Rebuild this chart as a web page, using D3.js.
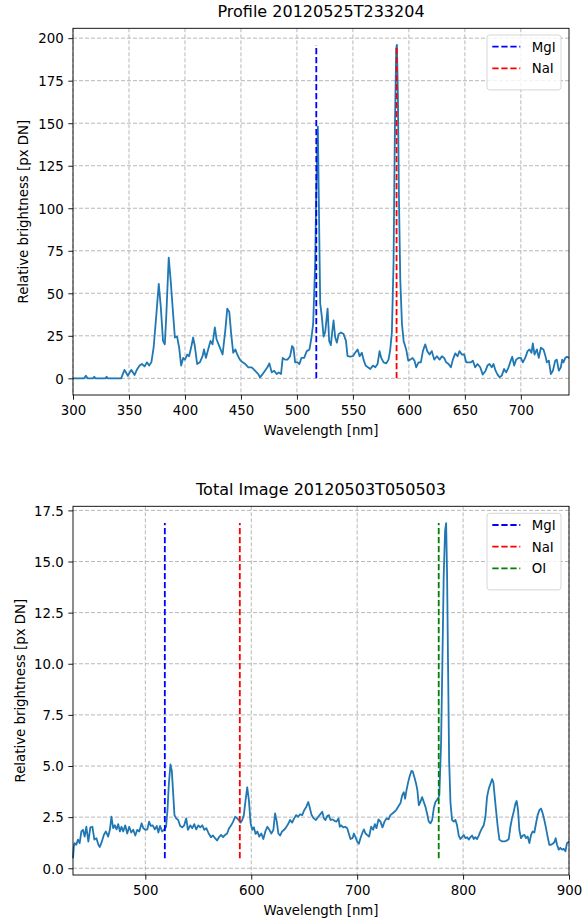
<!DOCTYPE html>
<html>
<head>
<meta charset="utf-8">
<script src="https://cdn.jsdelivr.net/npm/d3@7"></script>
<style>
  body { margin: 0; background: #fff; }
  svg { display: block; font-family: "DejaVu Sans", sans-serif; }
</style>
</head>
<body>
<svg id="fig" width="584" height="922"></svg>
<script>
// ---- Profile spectrum (upper panel) ----
const profileWavelength = [
  300, 310, 311.5, 313, 318, 319, 320, 329, 330, 331, 343, 346, 349, 352, 355, 357, 359.5, 361.5, 364, 366,
  368, 370, 372, 374.5, 376.6, 378.4, 380.4, 382, 383.4, 385.5, 387.3, 389.4, 391, 393, 394.8, 396.6, 398.4, 400, 402, 403.7,
  405.8, 407.3, 408.8, 410.9, 413.3, 415.7, 417, 418.7, 420.7, 422.8, 424.6, 426.7, 428.2, 430, 431.8, 433.6, 436, 437.8, 439.6, 441.3,
  443.1, 445, 446.7, 449, 451.5, 453.9, 456.6, 459.6, 462.5, 465.5, 467, 469.4, 471.5, 473.6, 475.4, 477.5, 479.6, 481.9, 483.7, 485.8,
  487.3, 489.4, 491.5, 493.9, 495.7, 496.9, 498.4, 500.5, 502.2, 504, 506.4, 508.8, 511.2, 513, 514.5, 516.3, 517.2, 518.7, 519.9, 520.8,
  522.3, 523.8, 525.3, 527.4, 528.8, 530.3, 531.3, 532.7, 534.2, 535.7, 537.2, 539.3, 541.7, 543.8, 545.2, 547.6, 550, 552, 554.2, 556,
  558, 559.5, 561.3, 563.4, 565.5, 567.9, 570, 572, 573.8, 575.3, 577.4, 579.8, 581.8, 583.3, 584.8, 586.3, 587.5, 588.7, 589.3, 590.2,
  591.1, 592.3, 593.8, 595.3, 597.6, 599.4, 601.2, 603.3, 605, 606.5, 608.6, 610.7, 612.5, 614.6, 616.4, 618.5, 620.5, 622.6, 625, 627.4,
  629.5, 631.5, 633.3, 635.4, 637.5, 639.3, 641.4, 643.5, 645.2, 647.3, 649.4, 651.2, 653.3, 655.4, 657.1, 659.2, 661.3, 663.7, 666, 668.5,
  670.2, 672, 674, 675.6, 677.4, 679.2, 681, 683, 685, 686.9, 689, 691, 692.3, 694, 695.8, 697.9, 700, 701.8, 703.9, 706,
  707.7, 709.5, 710.7, 712.2, 714.3, 716, 717.9, 720.2, 722, 723.2, 725, 726.8, 728.6, 730.7, 732.1, 733.9, 735.7, 736.9, 738.1, 739.6,
  741.1, 743
];
const profileBrightness = [
  0, 0, 1.5, 0, 0, 1, 0, 0, 1, 0, 0, 5, 1.5, 5, 2, 5, 7.5, 8.4, 7, 9.4,
  7.5, 9.4, 18, 38, 55.5, 42, 22, 20, 38, 71, 57, 38, 24, 24.5, 18, 7.5, 12, 11, 14, 13,
  19, 24, 19, 8.4, 9.4, 13, 17, 12, 17, 22, 20, 30, 23, 20, 17, 14, 28, 41, 39, 26,
  15, 17, 14, 11, 9.4, 8.4, 6.5, 6.5, 4.5, 2.5, 0.6, 2.5, 4.5, 6.5, 8.8, 3.5, 4.5, 2.5, 3.5, 2.5,
  12, 11, 11, 13, 19, 18, 9.4, 9.4, 8.4, 12, 12, 16, 17, 24, 32, 68, 107, 148, 87, 44,
  36, 24.5, 27.4, 41, 22, 19.5, 26, 34, 24, 21, 26, 27, 26, 22, 13, 12.7, 13, 15, 17, 13,
  15, 11, 7.5, 6.5, 5.5, 7.5, 6.5, 8.4, 16, 12, 9.4, 8.8, 11, 16.6, 27, 68, 147, 194, 196, 166,
  107, 58, 32, 22, 17, 10.4, 11, 12, 10.4, 6.5, 9.4, 9.4, 16, 20, 16, 14, 16, 11, 13, 11,
  13, 12, 9.4, 8.4, 6.5, 11, 14.7, 13, 16, 14, 14, 9.4, 9.4, 9.4, 10.4, 6.5, 8.4, 6.5, 2.2, 4.5,
  7.5, 8.4, 6.5, 8.4, 4.5, 2.2, 0.6, 1.6, 5.5, 3.5, 6.5, 10.4, 12.7, 7.5, 11, 12, 12, 9.4, 12, 16,
  17, 15, 20.6, 14, 17, 12, 18, 17, 13, 9.4, 10.4, 2.5, 4.5, 10.4, 11, 4.5, 6.5, 11, 9.4, 12,
  12.7, 12
];

// ---- Total image spectrum (lower panel) ----
const totalWavelength = [
  431.7, 432.5, 433.2, 434.8, 436.4, 438, 439.6, 441.1, 442.7, 444.3, 446.2, 448.1, 450, 451.9, 453.8, 455.7, 457, 458.9, 460.8, 462.7,
  464.9, 466.5, 468, 469.6, 471.2, 472.8, 474.4, 476, 477.5, 479.1, 481, 482.9, 484.8, 486.7, 488.6, 490.5, 492.4, 494.3, 496.5, 498.1,
  500, 501.9, 503.5, 505.1, 507, 508.9, 510.8, 512.3, 513.9, 515.8, 517.7, 519.6, 520.9, 522.2, 523.7, 525, 526.3, 527.5, 529.1, 531,
  532.9, 534.8, 536.7, 538.6, 540.2, 542.4, 544.3, 546.2, 548.1, 550, 551.9, 553.8, 555.7, 557.6, 559.8, 562, 563.9, 565.8, 567.7, 569.6,
  571.5, 573.4, 575.3, 577.2, 579.1, 581, 582.9, 584.8, 586.7, 588.3, 589.9, 591.5, 593, 594.6, 596.2, 597.8, 599.4, 601, 602.5, 604.1,
  605.7, 607.6, 609.5, 611.4, 613.3, 615.2, 617.1, 619, 620.9, 622.5, 624.1, 625.6, 627.2, 629.1, 631, 632.9, 634.8, 636.7, 638.6, 640.5,
  642.4, 644.3, 646.2, 648.1, 650, 651.9, 653.8, 655.1, 657, 658.9, 661.1, 663.3, 665.3, 667, 668.6, 670.1, 671.7, 673.3, 674.8, 676.7,
  678.6, 680.5, 682.4, 683.6, 684.9, 686.8, 688.7, 690.6, 692.1, 693.7, 695.6, 696.9, 698.4, 700, 701.6, 703.1, 704.7, 706.3, 707.9, 709.4,
  711.3, 713.2, 715.1, 716.7, 718.2, 720.1, 722, 723.9, 725.8, 727.7, 729.6, 731.4, 733.3, 735.2, 737.1, 739, 740.9, 742.5, 744, 745.3,
  746.5, 748.1, 749.7, 751.3, 752.5, 754.1, 755.7, 756.9, 758.2, 759.7, 761.3, 762.9, 764.5, 766, 767.6, 769.2, 770.8, 772.3, 773.9, 775.5,
  777, 777.6, 779.2, 780.5, 781.7, 783, 784, 784.9, 785.9, 786.8, 788.1, 789.6, 791.2, 792.8, 794.3, 795.9, 797.5, 799, 800.6, 802.2,
  803.8, 805.3, 806.9, 808.5, 810.1, 811.6, 813.2, 814.8, 816.4, 817.9, 819.5, 821.1, 822.6, 824.2, 825.8, 827.4, 828.6, 829.9, 831.1, 832.7,
  834.3, 836.8, 839.3, 841.5, 843.1, 844.7, 846.2, 847.8, 849.4, 850.6, 851.9, 853.1, 854.7, 856.3, 857.9, 859.4, 861, 862.6, 864.2, 865.7,
  867.3, 868.9, 870.4, 872, 873.6, 875.2, 876.7, 878.3, 879.9, 881.4, 883, 884.6, 886.2, 887.4, 888.7, 890.3, 891.8, 893.4, 895, 896.6,
  898.1, 900
];
const totalBrightness = [
  0.49, 1.07, 1.23, 1.15, 1.4, 1.23, 1.8, 1.88, 1.55, 2.03, 1.3, 2.0, 2.03, 1.4, 1.47, 1.15, 1.04, 1.3, 1.63, 1.8,
  1.55, 1.88, 2.52, 1.96, 2.1, 1.9, 2.16, 1.8, 2.03, 1.8, 2.1, 1.7, 2.03, 1.75, 1.88, 1.6, 1.88, 1.8, 2.2, 1.96,
  1.88, 1.9, 2.28, 2.07, 2.1, 1.9, 2.07, 1.75, 2.07, 1.8, 1.88, 2.03, 2.84, 4.12, 5.08, 4.76, 3.64, 2.6, 2.44, 2.36,
  2.07, 2.0, 2.1, 2.44, 1.88, 2.1, 1.96, 2.16, 1.9, 2.1, 2.0, 2.1, 1.88, 1.96, 1.7, 1.52, 1.6, 1.47, 1.36, 1.52,
  1.63, 1.52, 1.63, 1.7, 1.96, 2.1, 2.28, 2.52, 2.44, 2.36, 2.23, 2.36, 2.6, 3.32, 3.96, 3.32, 2.2, 1.88, 2.0, 1.68,
  1.8, 1.55, 1.7, 1.43, 1.8, 2.03, 1.88, 1.7, 1.88, 2.68, 2.28, 1.7, 1.6, 1.8, 1.88, 2.0, 2.16, 2.36, 2.23, 2.44,
  2.6, 2.52, 2.64, 2.6, 2.84, 3.0, 3.24, 3.0, 2.6, 2.44, 2.36, 2.52, 2.65, 2.76, 2.44, 2.36, 2.55, 2.6, 2.36, 2.39,
  2.32, 2.28, 2.44, 2.03, 2.1, 2.0, 2.03, 1.96, 1.7, 1.43, 1.47, 1.7, 1.52, 1.31, 1.2, 1.47, 1.7, 1.9, 1.7, 1.63,
  1.55, 2.03, 1.88, 2.16, 1.96, 2.39, 2.28, 2.0, 2.28, 2.44, 2.39, 2.6, 2.68, 2.76, 2.87, 3.03, 3.19, 3.56, 3.72, 3.4,
  3.8, 4.2, 4.52, 4.76, 4.73, 4.44, 4.12, 3.8, 3.08, 3.24, 3.48, 3.24, 3.0, 2.68, 2.28, 2.2, 2.36, 2.92, 3.24, 3.35,
  3.48, 3.58, 6.1, 10.2, 14.3, 16.5, 16.88, 14.3, 9.5, 5.3, 3.2, 2.36, 2.28, 2.36, 2.1, 1.6, 1.43, 1.52, 1.63, 1.47,
  1.52, 1.4, 1.52, 1.6, 1.43, 1.52, 1.43, 1.6, 1.8, 1.96, 2.1, 2.52, 3.48, 3.88, 4.12, 4.36, 4.2, 3.48, 2.84, 2.03,
  1.4, 1.31, 1.31, 1.36, 1.43, 2.03, 2.44, 2.76, 3.16, 3.29, 2.84, 1.88, 1.47, 1.6, 1.63, 1.47, 1.55, 1.23, 1.63, 1.8,
  1.75, 2.2, 2.6, 2.84, 2.92, 2.68, 2.36, 1.96, 1.52, 1.15, 1.15, 1.2, 1.27, 1.47, 1.15, 0.91, 1.0, 0.91, 0.95, 0.83,
  1.23, 1.31
];

// ---- Reference emission lines ----
const profileLineNames = ["MgI", "NaI"];
const profileLineWavelengths = [517.3, 589.0];
const totalLineNames = ["MgI", "NaI", "OI"];
const totalLineWavelengths = [518.4, 589.2, 777.0];

// ---- Tick values ----
const profileXTicks = [300, 350, 400, 450, 500, 550, 600, 650, 700];
const profileYTicks = [0, 25, 50, 75, 100, 125, 150, 175, 200];
const totalXTicks = [500, 600, 700, 800, 900];
const totalYTicks = [0, 2.5, 5, 7.5, 10, 12.5, 15, 17.5];

// ---- Styling ----
const lineColor = { MgI: "blue", NaI: "red", OI: "green" };
const spectrumColor = "#1f77b4";
const FONT = 13.33;
const MARK_WIDTH = 1.8;
const MARK_DASH = "6.3,2.7";

const svg = d3.select("#fig");

function drawPanel(opts) {
  const { box, wl, val, xTicks, yTicks, yFormat, title, names, lines, legendBox } = opts;
  const data = wl.map((w, i) => ({ w, v: val[i] }));
  const [vmin, vmax] = d3.extent(val);
  const pad = 0.05 * (vmax - vmin);

  const x = d3.scaleLinear().domain(d3.extent(wl)).range([box.x, box.x + box.w]);
  const y = d3.scaleLinear().domain([vmin - pad, vmax + pad]).range([box.y + box.h, box.y]);

  const g = svg.append("g");

  // grid
  const grid = g.append("g").attr("stroke", "#b0b0b0").attr("stroke-width", 0.9)
    .attr("stroke-dasharray", "4,2");
  grid.selectAll(".gx").data(xTicks).join("line")
    .attr("x1", d => x(d)).attr("x2", d => x(d))
    .attr("y1", box.y).attr("y2", box.y + box.h);
  grid.selectAll(".gy").data(yTicks).join("line")
    .attr("x1", box.x).attr("x2", box.x + box.w)
    .attr("y1", d => y(d)).attr("y2", d => y(d));

  // spectrum
  g.append("path").datum(data)
    .attr("fill", "none").attr("stroke", spectrumColor).attr("stroke-width", MARK_WIDTH)
    .attr("stroke-linejoin", "round")
    .attr("d", d3.line().x(d => x(d.w)).y(d => y(d.v)));

  // emission line markers
  g.selectAll(".vl").data(names.map((n, i) => ({ n, w: lines[i] }))).join("line")
    .attr("x1", d => x(d.w)).attr("x2", d => x(d.w))
    .attr("y1", y(vmin)).attr("y2", y(vmax))
    .attr("stroke", d => lineColor[d.n]).attr("stroke-width", MARK_WIDTH)
    .attr("stroke-dasharray", MARK_DASH);

  // spines
  g.append("rect").attr("x", box.x).attr("y", box.y).attr("width", box.w).attr("height", box.h)
    .attr("fill", "none").attr("stroke", "#000").attr("stroke-width", 0.9);

  // axes
  const ax = g.append("g").attr("transform", `translate(0,${box.y + box.h})`)
    .call(d3.axisBottom(x).tickValues(xTicks).tickSize(4.67).tickPadding(4.67).tickFormat(d3.format("d")));
  ax.select(".domain").remove();
  ax.selectAll("line").attr("stroke", "#000").attr("stroke-width", 0.9);
  ax.selectAll("text").attr("dy", "0.83em").attr("font-size", FONT).attr("fill", "#000")
    .attr("font-family", "DejaVu Sans");

  const ay = g.append("g").attr("transform", `translate(${box.x},0)`)
    .call(d3.axisLeft(y).tickValues(yTicks).tickSize(4.67).tickPadding(4.67).tickFormat(yFormat));
  ay.select(".domain").remove();
  ay.selectAll("line").attr("stroke", "#000").attr("stroke-width", 0.9);
  ay.selectAll("text").attr("dy", "0.36em").attr("font-size", FONT).attr("fill", "#000")
    .attr("font-family", "DejaVu Sans");

  // labels
  g.append("text").attr("x", box.x + box.w / 2).attr("y", box.y - 11.8)
    .attr("text-anchor", "middle").attr("font-size", 16).text(title);
  g.append("text").attr("x", box.x + box.w / 2).attr("y", box.y + box.h + 40)
    .attr("text-anchor", "middle").attr("font-size", FONT).text("Wavelength [nm]");
  g.append("text")
    .attr("transform", `translate(${opts.ylabelX},${box.y + box.h / 2}) rotate(-90)`)
    .attr("text-anchor", "middle").attr("font-size", FONT).text("Relative brightness [px DN]");

  // legend
  const lg = g.append("g");
  lg.append("rect").attr("x", legendBox.x).attr("y", legendBox.y)
    .attr("width", legendBox.w).attr("height", 11.5 + names.length * 21.7)
    .attr("rx", 2.7).attr("fill", "#fff").attr("fill-opacity", 0.8)
    .attr("stroke", "#cccccc").attr("stroke-width", 0.8);
  names.forEach((n, i) => {
    const cy = legendBox.y + 11.7 + i * 21.7;
    lg.append("line").attr("x1", legendBox.x + 5.3).attr("x2", legendBox.x + 33.3)
      .attr("y1", cy).attr("y2", cy)
      .attr("stroke", lineColor[n]).attr("stroke-width", MARK_WIDTH).attr("stroke-dasharray", MARK_DASH);
    lg.append("text").attr("x", legendBox.x + 44.7).attr("y", cy + 4.8)
      .attr("font-size", FONT).text(n);
  });
}

drawPanel({
  box: { x: 73, y: 28.3, w: 496, h: 366.7 },
  wl: profileWavelength, val: profileBrightness,
  xTicks: profileXTicks, yTicks: profileYTicks, yFormat: d3.format("d"),
  title: "Profile 20120525T233204",
  names: profileLineNames, lines: profileLineWavelengths,
  legendBox: { x: 487, y: 35, w: 74 },
  ylabelX: 28.3
});

drawPanel({
  box: { x: 73, y: 506.3, w: 496, h: 368.7 },
  wl: totalWavelength, val: totalBrightness,
  xTicks: totalXTicks, yTicks: totalYTicks, yFormat: d3.format(".1f"),
  title: "Total Image 20120503T050503",
  names: totalLineNames, lines: totalLineWavelengths,
  legendBox: { x: 487, y: 513.3, w: 74 },
  ylabelX: 24.9
});
</script>
</body>
</html>
